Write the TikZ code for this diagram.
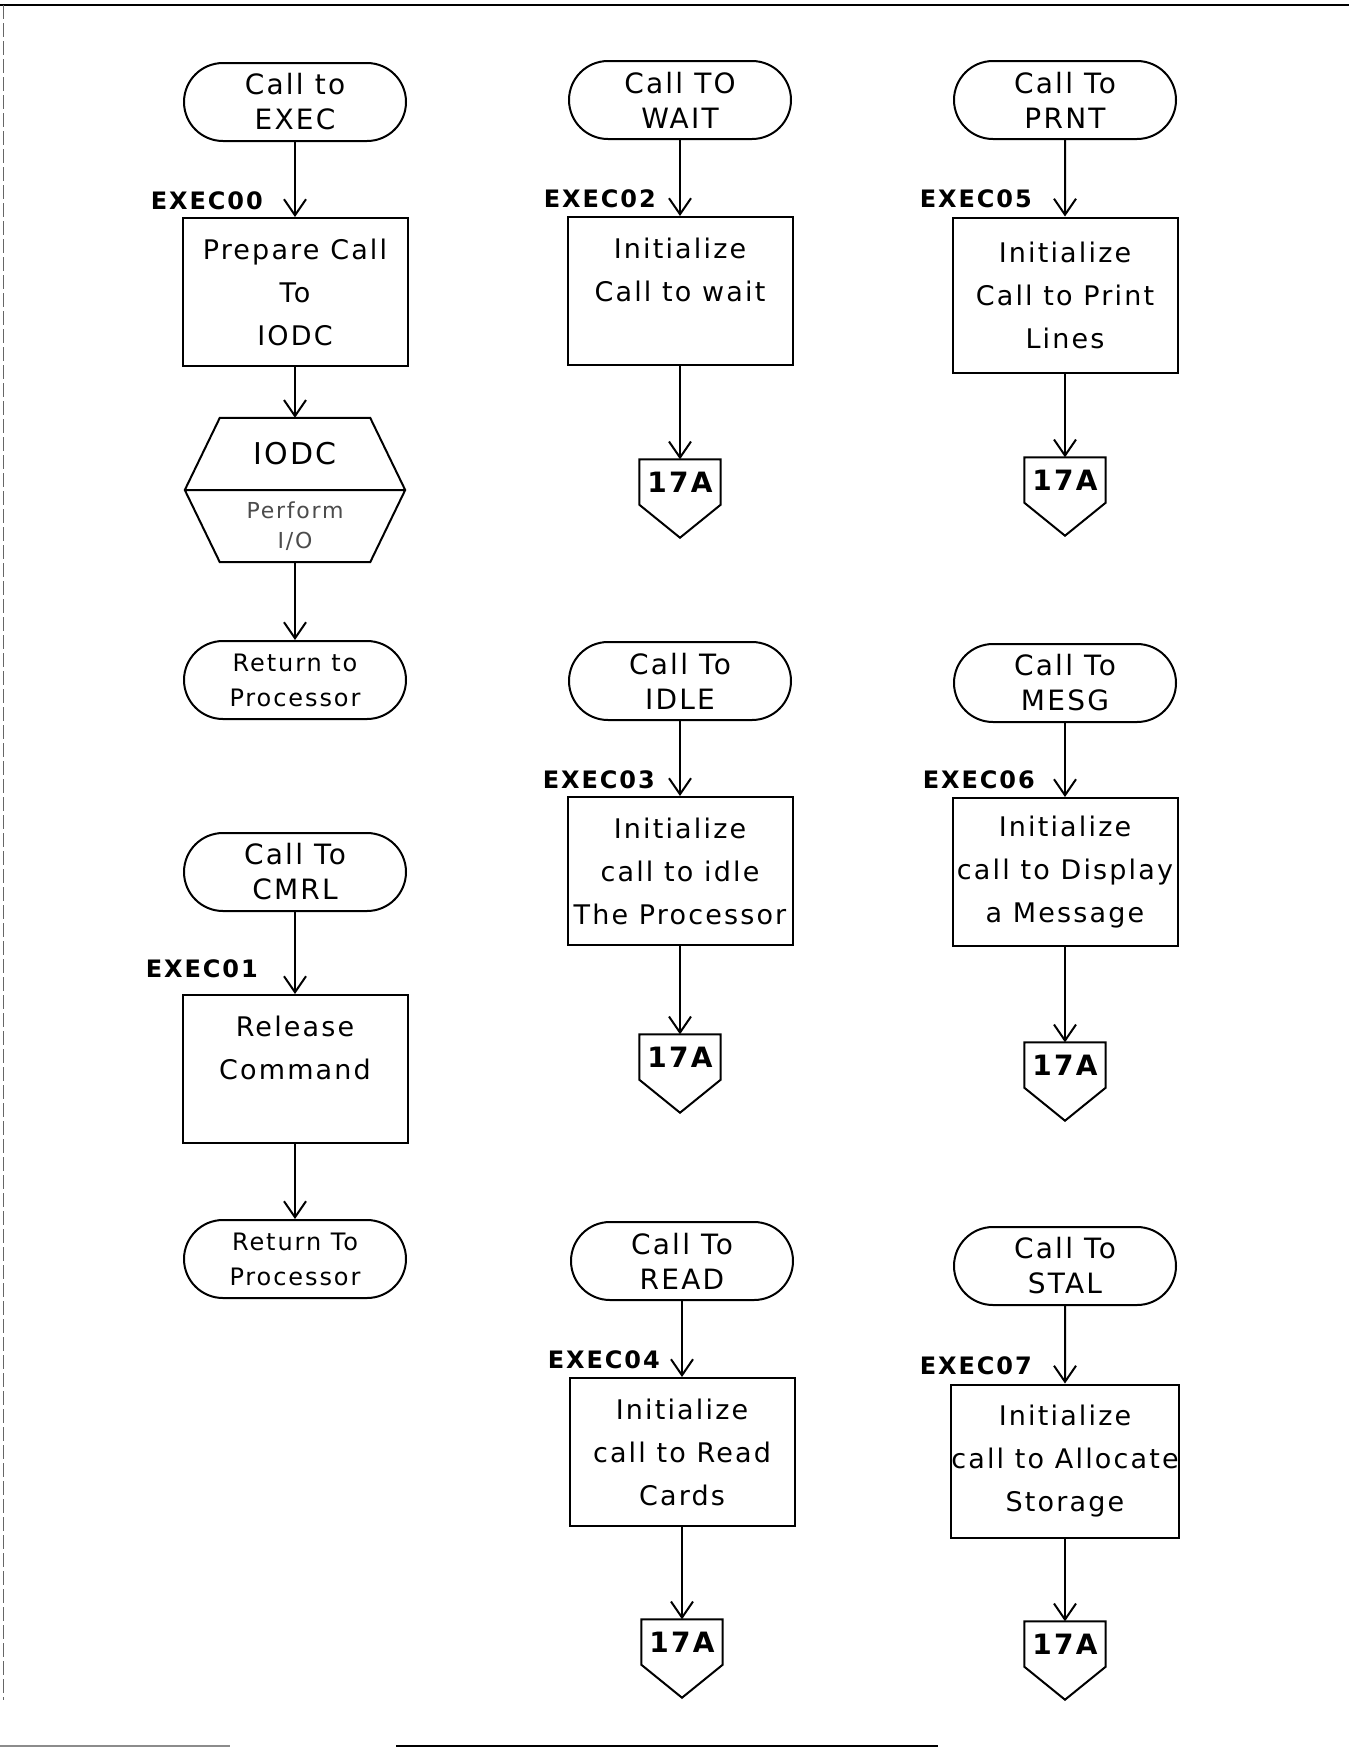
\documentclass[tikz,border=0pt]{standalone}
\usepackage{fontspec}
\setmainfont{DejaVu Sans}[LetterSpace=8]
\usetikzlibrary{arrows.meta,calc,positioning,shapes.misc}
\newcommand{\offpagemark}[2]{% {name}{position}
  \node[offpage] (#1) at (#2) {17A};
  \draw[line width=2pt] (#1.north west) -- (#1.north east) -- (#1.south east)
    -- ([yshift=-33pt]#1.south) -- (#1.south west) -- cycle;
}

\begin{document}
\begin{tikzpicture}[x=1pt,y=-1pt,
  terminal/.style={draw,line width=2pt,rounded rectangle,minimum width=222pt,minimum height=78pt,inner sep=0pt,align=center,font=\fontsize{28}{35}\selectfont},
  process/.style={draw,line width=2pt,rectangle,minimum width=225pt,minimum height=148pt,inner sep=0pt,align=center,font=\fontsize{27}{43}\selectfont},
  hexbox/.style={minimum width=220pt,minimum height=144pt,inner sep=0pt},
  entry/.style={inner sep=0pt,font=\bfseries\fontsize{24}{24}\selectfont},
  offpage/.style={minimum width=81pt,minimum height=45pt,inner sep=0pt,font=\bfseries\fontsize{28}{28}\selectfont},
  flow/.style={line width=2pt,-{Straight Barb[length=16pt,width=22pt,line width=2pt]}}]
  \useasboundingbox (0,0) rectangle (1349,1749);
  \fill[white] (0,0) rectangle (1349,1749);
  % Page edges
  \draw[line width=2.5pt] (0,5) -- (1349,5);
  \draw[line width=1pt,black!60,dash pattern=on 14pt off 4pt] (3,5) -- (3,1700);
  \draw[line width=2pt,black!45] (0,1746) -- (230,1746);
  \draw[line width=2pt] (396,1746) -- (938,1746);
  % EXEC entry
  \node[terminal] (exec) at (295,102) {Call to\\EXEC};
  \node[process] (prep) at (295,292) {Prepare Call\\To\\IODC};
  \node[entry,above left=7pt and 32pt of prep.north] (l00) {EXEC00};
  \node[hexbox] (iodc) at (295,490) {};
  \draw[line width=2pt] (iodc.west) -- ([xshift=35pt]iodc.north west) -- ([xshift=-35pt]iodc.north east) -- (iodc.east)
    -- ([xshift=-35pt]iodc.south east) -- ([xshift=35pt]iodc.south west) -- cycle
    (iodc.west) -- (iodc.east);
  \node[font=\fontsize{30}{30}\selectfont] (iodcname) at ([yshift=36pt]iodc.center) {IODC};
  \node[align=center,text=black!70,font=\fontsize{22}{30}\selectfont] (iodcjob) at ([yshift=-36pt]iodc.center) {Perform\\I/O};
  \node[terminal,font=\fontsize{24}{35}\selectfont] (ret1) at (295,680) {Return to\\Processor};
  \draw[flow] (exec) -- (prep);
  \draw[flow] (prep) -- (iodc);
  \draw[flow] (iodc) -- (ret1);
  % CMRL
  \node[terminal] (cmrl) at (295,872) {Call To\\CMRL};
  \node[process] (rel) at (295,1069) {Release\\Command\\\phantom{X}};
  \node[entry,above left=16pt and 37pt of rel.north] (l01) {EXEC01};
  \node[terminal,font=\fontsize{24}{35}\selectfont] (ret2) at (295,1259) {Return To\\Processor};
  \draw[flow] (cmrl) -- (rel);
  \draw[flow] (rel) -- (ret2);
  % WAIT
  \node[terminal] (wait) at (680,100) {Call TO\\WAIT};
  \node[process] (winit) at (680,291) {Initialize\\Call to wait\\\phantom{X}};
  \node[entry,above left=8pt and 24pt of winit.north] (l02) {EXEC02};
  \offpagemark{w17}{680,482}
  \draw[flow] (wait) -- (winit);
  \draw[flow] (winit) -- (w17);
  % IDLE
  \node[terminal] (idle) at (680,681) {Call To\\IDLE};
  \node[process] (iinit) at (680,871) {Initialize\\call to idle\\The Processor};
  \node[entry,above left=7pt and 25pt of iinit.north] (l03) {EXEC03};
  \offpagemark{i17}{680,1057}
  \draw[flow] (idle) -- (iinit);
  \draw[flow] (iinit) -- (i17);
  % READ
  \node[terminal] (read) at (682,1261) {Call To\\READ};
  \node[process] (rinit) at (682,1452) {Initialize\\call to Read\\Cards};
  \node[entry,above left=8pt and 22pt of rinit.north] (l04) {EXEC04};
  \offpagemark{r17}{682,1642}
  \draw[flow] (read) -- (rinit);
  \draw[flow] (rinit) -- (r17);
  % PRNT
  \node[terminal] (prnt) at (1065,100) {Call To\\PRNT};
  \node[process,minimum height=155pt] (pinit) at (1065,295) {Initialize\\Call to Print\\Lines};
  \node[entry,above left=8pt and 33pt of pinit.north] (l05) {EXEC05};
  \offpagemark{p17}{1065,480}
  \draw[flow] (prnt) -- (pinit);
  \draw[flow] (pinit) -- (p17);
  % MESG
  \node[terminal] (mesg) at (1065,683) {Call To\\MESG};
  \node[process] (minit) at (1065,872) {Initialize\\call to Display\\a Message};
  \node[entry,above left=8pt and 30pt of minit.north] (l06) {EXEC06};
  \offpagemark{m17}{1065,1065}
  \draw[flow] (mesg) -- (minit);
  \draw[flow] (minit) -- (m17);
  % STAL
  \node[terminal] (stal) at (1065,1266) {Call To\\STAL};
  \node[process,minimum height=153pt] (sinit) at (1065,1461) {Initialize\\call to Allocate\\Storage};
  \node[entry,above left=8pt and 33pt of sinit.north] (l07) {EXEC07};
  \offpagemark{s17}{1065,1644}
  \draw[flow] (stal) -- (sinit);
  \draw[flow] (sinit) -- (s17);
\end{tikzpicture}
\end{document}
